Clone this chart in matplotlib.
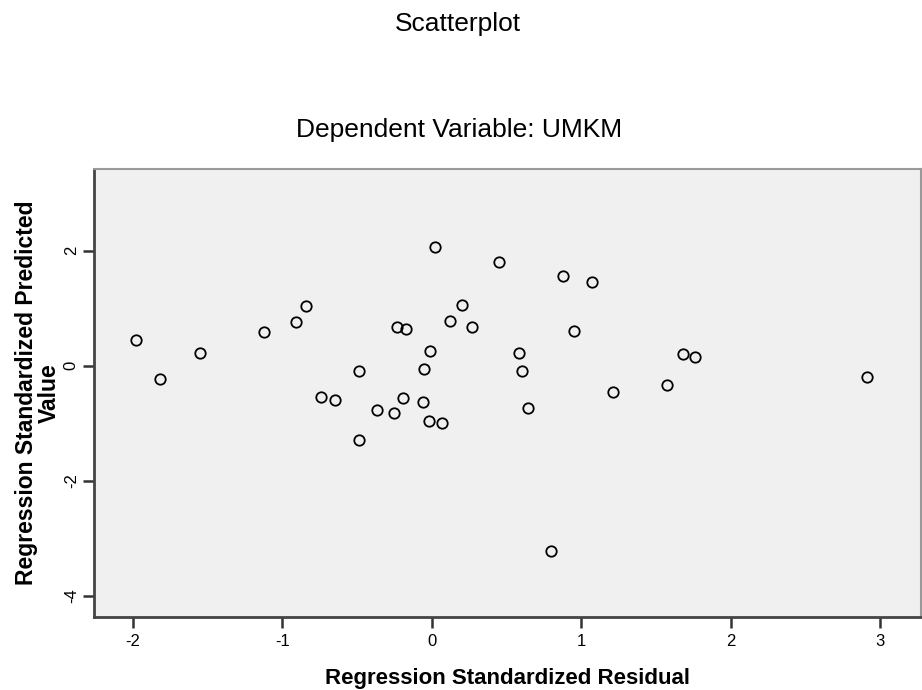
import matplotlib
matplotlib.use("Agg")
import matplotlib.pyplot as plt

# Regression standardized residual (x) vs. standardized predicted value (y)
residual = [-1.98, -1.82, -1.55, -1.12, -0.91, -0.84, -0.74, -0.65, -0.49, -0.49,
            -0.37, -0.25, -0.19, -0.23, -0.17, -0.06, -0.05, -0.02, 0.07, -0.01,
            0.02, 0.20, 0.12, 0.27, 0.45, 0.88, 1.07, 0.95, 0.58, 0.60,
            0.64, 1.21, 1.57, 1.68, 1.76, 2.91, 0.80]
predicted = [0.45, -0.24, 0.22, 0.58, 0.76, 1.03, -0.55, -0.60, -0.10, -1.29,
             -0.77, -0.83, -0.57, 0.67, 0.63, -0.63, -0.05, -0.97, -1.00, 0.25,
             2.06, 1.05, 0.77, 0.68, 1.80, 1.56, 1.46, 0.61, 0.22, -0.10,
             -0.74, -0.45, -0.34, 0.20, 0.15, -0.20, -3.23]

x_ticks = [-2, -1, 0, 1, 2, 3]
y_ticks = [2, 0, -2, -4]

plt.rcParams['font.family'] = ['Liberation Sans', 'DejaVu Sans']
plt.rcParams['axes.unicode_minus'] = False

fig = plt.figure(figsize=(9.22, 6.90), dpi=100)
ax = fig.add_axes([0.102, 0.106, 0.8965, 0.649])
ax.set_facecolor('#F0F0F0')

ax.plot(residual, predicted, linestyle='none', marker='o', markersize=7.5,
        markerfacecolor='none', markeredgecolor='black', markeredgewidth=1.3)

ax.set_xlim(-2.26, 3.27)
ax.set_ylim(-4.37, 3.42)
ax.set_xticks(x_ticks)
ax.set_yticks(y_ticks)
ax.set_xticklabels([str(v) for v in x_ticks], fontsize=12)
ax.set_yticklabels([str(v) for v in y_ticks], fontsize=12, rotation=90, va='center')
ax.tick_params(axis='both', direction='out', length=8, width=1.8, color='#333333')
ax.tick_params(axis='x', pad=4)
ax.tick_params(axis='y', pad=3)

for side in ['left', 'bottom', 'top', 'right']:
    ax.spines[side].set_linewidth(2.0)
    ax.spines[side].set_color('#444444')
ax.spines['top'].set_color('#999999')
ax.spines['right'].set_color('#999999')
ax.spines['top'].set_linewidth(1.5)
ax.spines['right'].set_linewidth(1.5)

ax.set_xlabel('Regression Standardized Residual', fontsize=16, fontweight='bold', labelpad=14)
ax.set_ylabel('Regression Standardized Predicted\nValue', fontsize=16.5, fontweight='bold',
              labelpad=2, linespacing=1.0)

fig.text(0.497, 0.965, 'Scatterplot', ha='center', va='center', fontsize=19)
fig.text(0.498, 0.812, 'Dependent Variable: UMKM', ha='center', va='center', fontsize=19)

fig.savefig('out.png', dpi=100, facecolor='white')
